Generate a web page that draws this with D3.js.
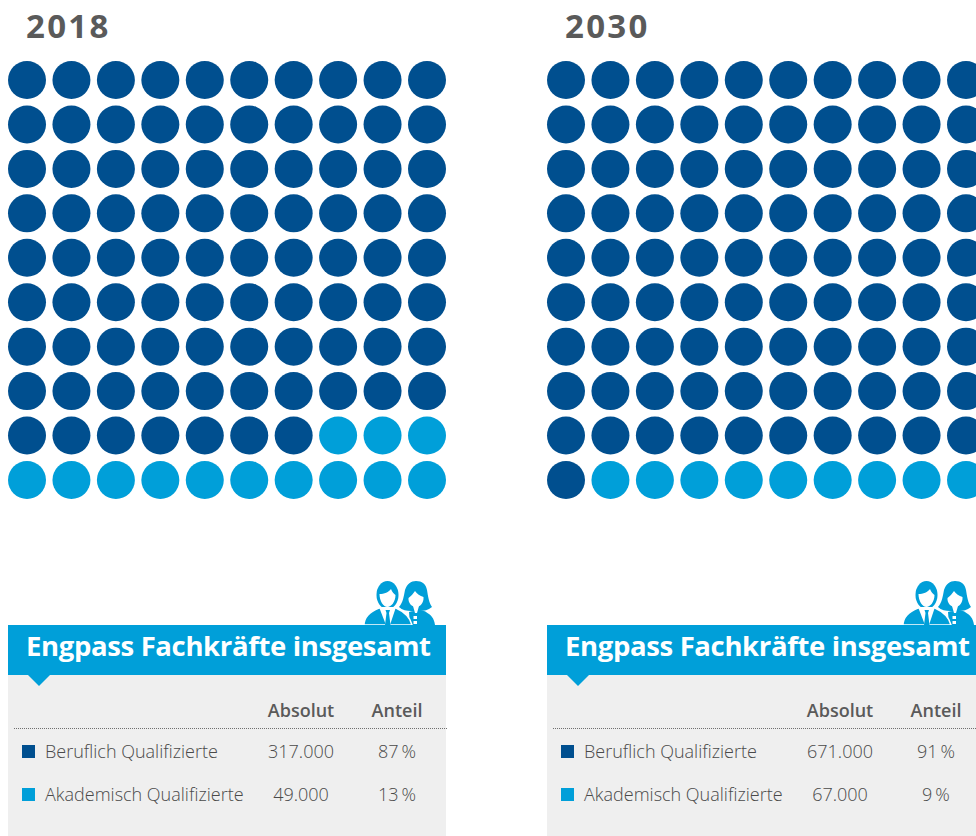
<!DOCTYPE html>
<html>
<head>
  <meta charset="utf-8">
  <title>Engpass Fachkräfte 2018 und 2030</title>
  <style>
    html, body { margin: 0; padding: 0; background: #fff; overflow: hidden; }
    svg { display: block; }
    text { font-family: "Open Sans", sans-serif; }
    .year { font-size: 33px; font-weight: 700; fill: #5a5a5a; letter-spacing: 2.3px; }
    .head { font-size: 27.5px; font-weight: 700; fill: #fff; }
    .col { font-size: 18px; font-weight: 600; fill: #5a5a5a; }
    .cell { font-size: 18px; font-weight: 300; fill: #4a4a4a; }
  </style>
</head>
<body>
  <svg id="chart" width="976" height="836"></svg>

  <script src="https://d3js.org/d3.v7.min.js"></script>
  <script>
    // Data
    const years = ["2018", "2030"];
    const categories = ["Beruflich Qualifizierte", "Akademisch Qualifizierte"];
    const absolute = [["317.000", "49.000"], ["671.000", "67.000"]];
    const shares = [[87, 13], [91, 9]];
    const columns = ["Absolut", "Anteil"];
    const colors = ["#004f8f", "#009fd9"];
    const title = "Engpass Fachkräfte insgesamt";

    const svg = d3.select("#chart");

    // Scales
    const panelX = d3.scalePoint().domain(years).range([8, 547]);
    const gridX = d3.scalePoint().domain(d3.range(10)).range([19, 419]);
    const gridY = d3.scalePoint().domain(d3.range(10)).range([80, 480]);
    const rowY = d3.scalePoint().domain(categories).range([751, 794]);
    const colX = d3.scaleOrdinal().domain(columns).range([293, 389]);

    years.forEach((year, p) => {
      const g = svg.append("g").attr("transform", `translate(${panelX(year)},0)`);

      g.append("text").attr("class", "year")
        .attr("x", 18).attr("y", 38).text(year);

      // 100 dots, one per percent, filled row by row
      const dots = d3.range(100).map(i => ({
        row: Math.floor(i / 10),
        col: i % 10,
        kind: i < shares[p][0] ? 0 : 1
      }));
      g.selectAll("circle.dot")
        .data(dots)
        .enter()
        .append("circle")
        .attr("class", "dot")
        .attr("cx", d => gridX(d.col))
        .attr("cy", d => gridY(d.row))
        .attr("r", 19)
        .style("fill", d => colors[d.kind]);

      // Gray table background
      g.append("rect").attr("x", 0).attr("y", 675).attr("width", 438).attr("height", 161).style("fill", "#efefef");

      // People icon: woman behind, man in front
      const icon = g.append("g").attr("transform", "translate(356,581)").style("fill", colors[1]);
      icon.append("path").attr("d", "M45 31C52 29 60 29 62 31C67 34 70 37 71 44H46Z");
      icon.append("path").attr("d", "M35 26C39 22 40 14 41 9C43 3 47 0 52 0C58 0 62 3 63 9C64 15 65 22 68 26C64 29 60 30 56 30H47C43 30 38 29 35 26Z");
      icon.append("path").attr("d", "M44.5 17C47 15 49 13 51 10C53 13 56 15 59.5 16C60 22 56 26 52 26C48 26 44 22 44.5 17Z").style("fill", "#fff");
      icon.append("path").attr("d", "M49 25L51 32H53L55 25Z").style("fill", "#fff");
      icon.append("rect").attr("x", 49.5).attr("y", 35).attr("width", 3.5).attr("height", 3).style("fill", "#fff");
      icon.append("rect").attr("x", 49.5).attr("y", 40).attr("width", 3.5).attr("height", 3).style("fill", "#fff");
      icon.append("path").attr("d", "M0 44C0 36 5 31 15 27H32C41 31 46 36 48 44Z")
        .style("stroke", "#fff").style("stroke-width", 1.5);
      icon.append("ellipse").attr("cx", 23.5).attr("cy", 14).attr("rx", 11).attr("ry", 14);
      icon.append("path").attr("d", "M15.5 13C20 13 25 11 27 8C28 11 30 13 31.5 14C31.5 21 27 26 23.5 26C19.5 26 15.5 20 15.5 13Z").style("fill", "#fff");
      icon.append("path").attr("d", "M15 26L22 44H26L32 26Z").style("fill", "#fff");
      icon.append("path").attr("d", "M21.5 29H26L25 32L26.5 44H21L22.5 32Z");

      // Blue header with pointer
      g.append("rect").attr("x", 0).attr("y", 625).attr("width", 438).attr("height", 50).style("fill", colors[1]);
      g.append("path").attr("d", "M20 675L31 686L42 675Z").style("fill", colors[1]);
      g.append("text").attr("class", "head").attr("x", 18).attr("y", 656)
        .attr("textLength", 405).text(title);

      // Column heads
      g.selectAll("text.col")
        .data(columns)
        .enter()
        .append("text")
        .attr("class", "col")
        .attr("x", d => colX(d))
        .attr("y", 717)
        .attr("text-anchor", "middle")
        .text(d => d);

      g.append("line").attr("x1", 6).attr("x2", 439).attr("y1", 728.5).attr("y2", 728.5)
        .style("stroke", "#6f6f6f").style("stroke-width", 1).style("stroke-dasharray", "1 1");

      // Table rows
      categories.forEach((c, i) => {
        const y = rowY(c);
        g.append("rect").attr("x", 14).attr("y", y - 6).attr("width", 13).attr("height", 13).style("fill", colors[i]);
        g.append("text").attr("class", "cell").attr("x", 37).attr("y", y + 7).text(c);
        g.append("text").attr("class", "cell").attr("x", colX(columns[0])).attr("y", y + 7)
          .attr("text-anchor", "middle").text(absolute[p][i]);
        g.append("text").attr("class", "cell").attr("x", colX(columns[1])).attr("y", y + 7)
          .attr("text-anchor", "middle").text(shares[p][i] + "\u2009%");
      });
    });
  </script>
</body>
</html>
